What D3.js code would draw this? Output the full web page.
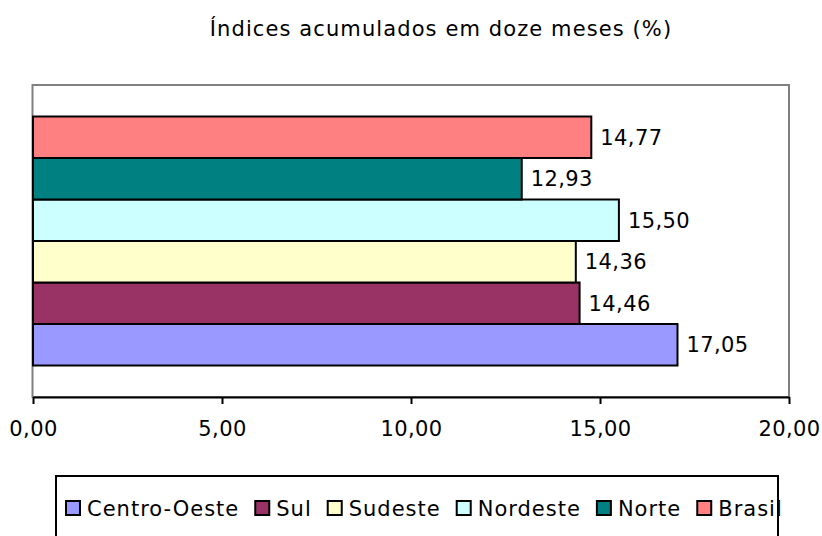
<!DOCTYPE html>
<html>
<head>
<meta charset="utf-8">
<script src="https://cdn.jsdelivr.net/npm/d3@7"></script>
<style>
  body { margin: 0; background: #fff; }
  text { font-family: "DejaVu Sans", Verdana, sans-serif; fill: #000; }
</style>
</head>
<body>
<svg id="chart" width="822" height="536"></svg>
<script>
// series in drawing order, bottom to top
const regions = ['Centro-Oeste', 'Sul', 'Sudeste', 'Nordeste', 'Norte', 'Brasil']
const values = [17.05, 14.46, 14.36, 15.50, 12.93, 14.77]
const colors = ['#9999FF', '#993366', '#FFFFCC', '#CCFFFF', '#008080', '#FF8080']
const xTicks = [0, 5, 10, 15, 20]
const title = 'Índices acumulados em doze meses (%)'

const margin = { top: 85, right: 33, bottom: 139, left: 33 }
const width = 822
const height = 536
const fontSize = 21

const fmt = d => d.toFixed(2).replace('.', ',')

const svg = d3.select('#chart')

const x = d3.scaleLinear()
  .domain([0, 20])
  .range([margin.left, width - margin.right])

const plotTop = margin.top
const plotBottom = height - margin.bottom

// one category with six series, gap on both ends
const gap = 31.5
const y = d3.scaleBand()
  .domain(regions.slice().reverse())
  .range([plotTop + gap, plotBottom - gap])
  .padding(0)

// title
svg.append('text')
  .attr('x', 441)
  .attr('y', 36)
  .attr('text-anchor', 'middle')
  .style('font-size', fontSize + 'px')
  .style('letter-spacing', '1.1px')
  .text(title)

// plot frame
svg.append('rect')
  .attr('x', x(0) - 0.5)
  .attr('y', plotTop)
  .attr('width', x(20) - x(0) + 0.5)
  .attr('height', plotBottom - plotTop)
  .attr('fill', 'none')
  .attr('stroke', '#808080')
  .attr('stroke-width', 2)

// bars
svg.append('g')
  .selectAll('rect')
  .data(regions)
  .enter()
    .append('rect')
    .attr('x', x(0))
    .attr('y', d => y(d))
    .attr('width', (d, i) => x(values[i]) - x(0))
    .attr('height', y.bandwidth())
    .attr('fill', (d, i) => colors[i])
    .attr('stroke', '#000')
    .attr('stroke-width', 2)

// value labels
svg.append('g')
  .selectAll('text')
  .data(regions)
  .enter()
    .append('text')
    .attr('x', (d, i) => x(values[i]) + 9)
    .attr('y', d => y(d) + y.bandwidth() / 2)
    .attr('dy', '0.36em')
    .style('font-size', fontSize + 'px')
    .style('letter-spacing', '0.4px')
    .text((d, i) => fmt(values[i]))

// x axis
const xAxis = svg.append('g')
  .attr('transform', `translate(0, ${plotBottom})`)
  .call(d3.axisBottom(x).tickValues(xTicks).tickFormat(fmt).tickSize(7).tickSizeOuter(0))

xAxis.select('.domain').attr('stroke', '#000').attr('stroke-width', 2)
xAxis.selectAll('.tick line').attr('stroke', '#000').attr('stroke-width', 2)
xAxis.selectAll('.tick text')
  .attr('y', 24)
  .attr('dy', '0.71em')
  .style('font-family', '"DejaVu Sans", Verdana, sans-serif')
  .style('font-size', fontSize + 'px')
  .style('letter-spacing', '0.4px')
  .attr('fill', '#000')

// legend
const legend = svg.append('g')
const legendY = 508
let cursor = 66
regions.forEach((name, i) => {
  legend.append('rect')
    .attr('x', cursor)
    .attr('y', legendY - 7)
    .attr('width', 14)
    .attr('height', 14)
    .attr('fill', colors[i])
    .attr('stroke', '#000')
    .attr('stroke-width', 2)
  const t = legend.append('text')
    .attr('x', cursor + 21)
    .attr('y', legendY)
    .attr('dy', '0.36em')
    .style('font-size', fontSize + 'px')
    .style('letter-spacing', '1px')
    .text(name)
  cursor += 21 + t.node().getComputedTextLength() + 16
})

svg.append('rect')
  .attr('x', 56)
  .attr('y', 476)
  .attr('width', 722)
  .attr('height', 80)
  .attr('fill', 'none')
  .attr('stroke', '#000')
  .attr('stroke-width', 2)
</script>
</body>
</html>
